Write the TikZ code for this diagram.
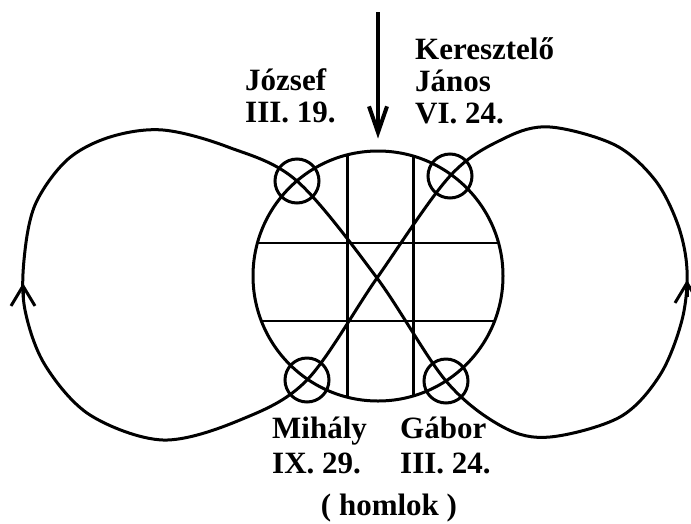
\documentclass[tikz,border=0pt]{standalone}
\usepackage{fontspec}
\setmainfont{Liberation Serif}
\usetikzlibrary{arrows.meta}

\begin{document}
\begin{tikzpicture}[
  x=1pt,y=-1pt,
  vonal/.style={line width=3pt},
  kor/.style={circle,draw,line width=3pt,inner sep=0pt,minimum size=44pt},
  felirat/.style={font=\bfseries\fontsize{31}{32}\selectfont,inner sep=0pt,align=left,anchor=base west},
  hurok/.style={line width=3pt,-{Straight Barb[length=20pt,width=24pt]}},
  nyil/.style={line width=4pt,-{Straight Barb[length=26pt,width=18pt]}}
]
\clip (0,0) rectangle (691,523);
\node[circle,draw,line width=3pt,inner sep=0pt,minimum size=250pt] (fej) at (378,276) {};
\begin{scope}
\clip (fej.center) circle (125);
\draw[vonal] (347,140) -- (347,410) (413,140) -- (413,410);
\draw[line width=2.5pt] (240,243) -- (520,243) (240,321) -- (520,321);
\end{scope}
\node[kor] (jozsefkor) at (297,181) {};
\node[kor] (janoskor) at (450,176) {};
\node[kor] (mihalykor) at (307,380) {};
\node[kor] (gaborkor) at (446,381) {};

\draw[vonal] plot[smooth cycle,tension=0.55] coordinates {(377,278) (gaborkor.center) (503,427) (550,437)
  (620,417) (660,375) (682,320) (687,270) (678,225) (655,180) (615,145) (550,127) (505,138)
  (janoskor.center) (377,278) (mihalykor.center) (240,420) (163,440) (90,415) (45,365) (25,310)
  (24,260) (35,205) (67,160) (110,137) (163,130) (228,147) (jozsefkor.center)};
\draw[hurok] (23,300) -- (23,283);
\draw[hurok] (687,297) -- (687,280);

\coordinate (fent) at (378,12);
\draw[nyil] (fent) -- ([yshift=11pt]fej.north);

\node[felirat] (jozsef) at (245,122) {József\\III. 19.};
\node[felirat] (janos) at (415,123) {Keresztelő\\János\\VI. 24.};
\node[felirat] (mihaly) at (272,473) {Mihály\\[3pt]IX. 29.};
\node[felirat] (gabor) at (400,473) {Gábor\\[3pt]III. 24.};
\node[felirat,anchor=base] (homlok) at (389,515) {( homlok )};
\end{tikzpicture}
\end{document}
